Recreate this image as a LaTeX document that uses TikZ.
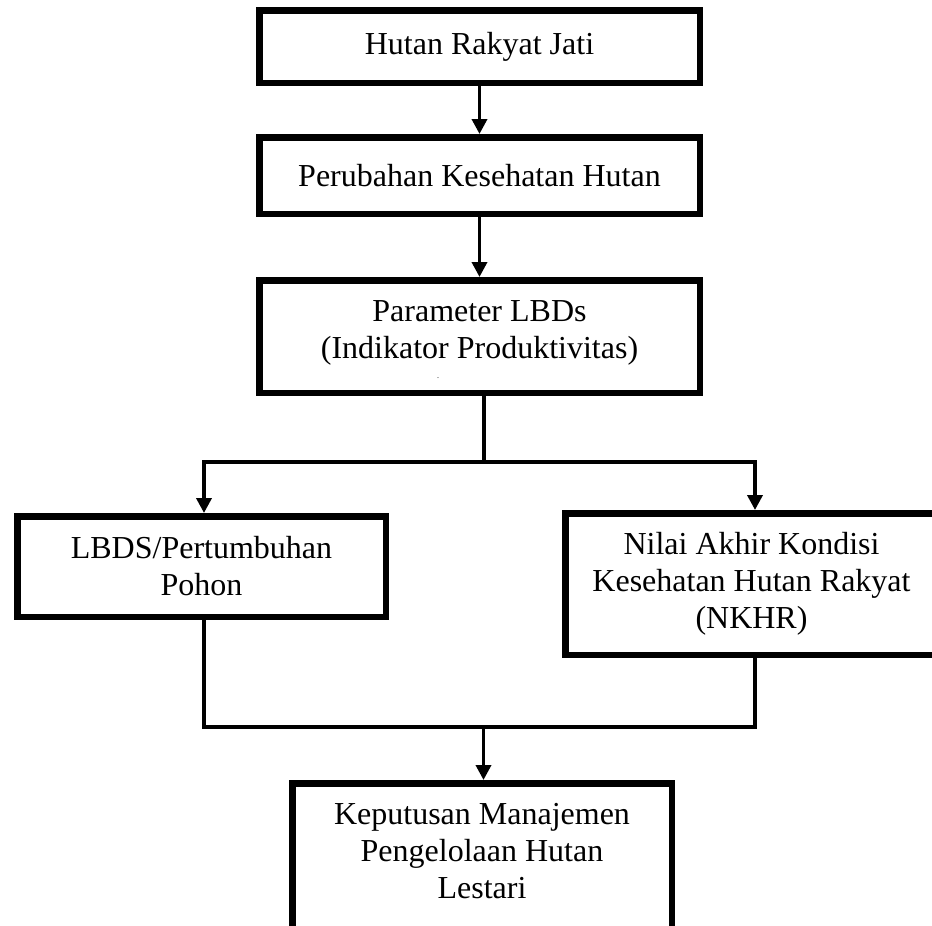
\documentclass[tikz,border=0pt]{standalone}
\usepackage{fontspec}
\setmainfont{Liberation Serif}
\usetikzlibrary{arrows.meta}
\begin{document}
\begin{tikzpicture}[x=1pt,y=-1pt,
  box/.style={draw, line width=6.5pt, inner sep=0pt, align=center,
    font=\fontsize{32}{37}\selectfont},
  conn/.style={line width=3.6pt},
  arr/.style={conn, -{Triangle[width=15pt,length=15pt]}}]
\useasboundingbox (0,0) rectangle (932,926);
\fill[white] (0,0) rectangle (932,926);
\begin{scope}
\clip (0,0) rectangle (932,926);
% boxes
\node[box, minimum width=440.5pt, minimum height=72.5pt] (b1) at (479.5,46.5) {Hutan Rakyat Jati};
\node[box, minimum width=440.5pt, minimum height=76.5pt] (b2) at (479.5,175.5) {Perubahan Kesehatan Hutan};
\node[box, minimum width=440.5pt, minimum height=112.5pt] (b3) at (479.5,336.5)
  {Parameter LBDs\\(Indikator Produktivitas)\rule[-13pt]{0pt}{13pt}};
\node[inner sep=0pt, font=\fontsize{8}{8}\selectfont] (dot) at (438,378) {.};
\node[box, minimum width=368.5pt, minimum height=100.5pt] (lb) at (201.5,566.5)
  {LBDS/Pertumbuhan\\Pohon};
\node[box, minimum width=372.5pt, minimum height=141.5pt] (rb) at (751.5,584)
  {Nilai Akhir Kondisi\\Kesehatan Hutan Rakyat\\(NKHR)};
\node[box, minimum width=379.5pt, minimum height=163.5pt] (kb) at (482,865)
  {Keputusan Manajemen\\Pengelolaan Hutan\\Lestari\rule[-28pt]{0pt}{28pt}};
% connectors
\coordinate (j1) at (484,462);
\coordinate (jl) at (204,462);
\coordinate (jr) at (755,462);
\coordinate (kl) at (204,727);
\coordinate (kr) at (755,727);
\coordinate (k1) at (483.5,727);
\draw[arr] (b1.south) -- (b2.north);
\draw[arr] (b2.south) -- (b3.north);
\draw[conn] (b3.south -| j1) -- (j1);
\draw[arr] (j1) -- (jl) -- (jl |- lb.north);
\draw[arr] (j1) -- (jr) -- (jr |- rb.north);
\draw[conn] (lb.south -| kl) -- (kl) -- (kr) -- (rb.south -| kr);
\draw[arr] (k1) -- (kb.north -| k1);
\end{scope}
\end{tikzpicture}
\end{document}
